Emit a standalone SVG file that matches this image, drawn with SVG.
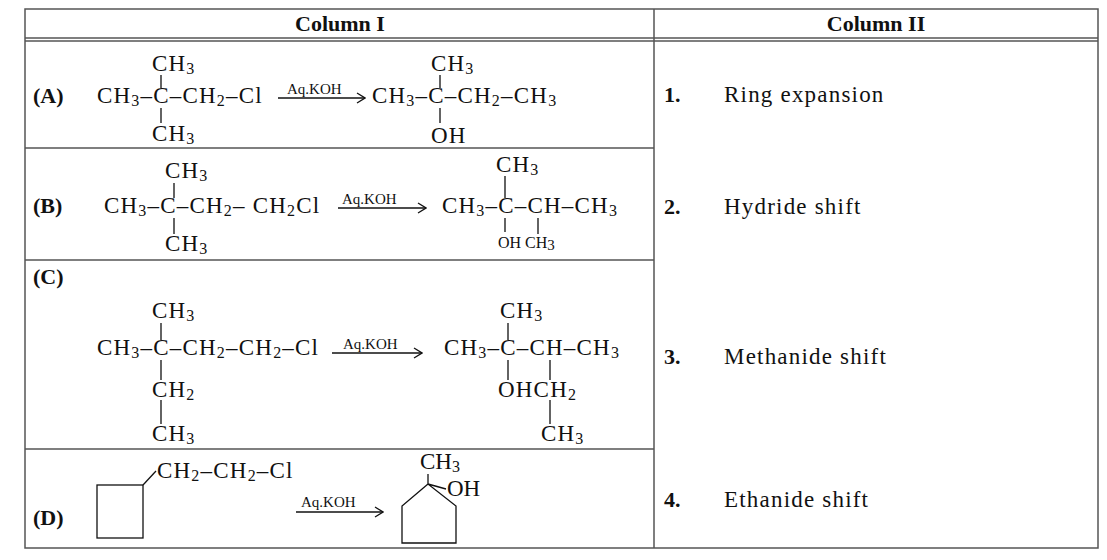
<svg xmlns="http://www.w3.org/2000/svg" width="1107" height="560" viewBox="0 0 1107 560">
<style>
text{font-family:"Liberation Serif",serif;font-size:23px;fill:#111}
.b{font-weight:bold;font-size:22px}
.k{font-size:15px;letter-spacing:0}
.sm{font-size:16px}
.f{letter-spacing:1.2px}
.t{stroke:#555;stroke-width:1.5;fill:none}
.l{stroke:#111;stroke-width:1.3;fill:none}
</style>
<defs><marker id="ah" markerWidth="10" markerHeight="12" refX="9" refY="6" orient="auto" markerUnits="userSpaceOnUse"><path d="M1,1 L9,6 L1,11" fill="none" stroke="#111" stroke-width="1.3"/></marker></defs>
<rect width="1107" height="560" fill="#fff"/>
<g id="table">
<rect class="t" x="25" y="9" width="1073" height="539"/>
<line class="t" x1="654" y1="9" x2="654" y2="548"/>
<line class="t" x1="25" y1="38" x2="1098" y2="38"/>
<line class="t" x1="25" y1="41" x2="1098" y2="41"/>
<line class="t" x1="25" y1="148" x2="654" y2="148"/>
<line class="t" x1="25" y1="260" x2="654" y2="260"/>
<line class="t" x1="25" y1="449" x2="654" y2="449"/>
<text class="b" x="340" y="31" text-anchor="middle">Column I</text>
<text class="b" x="876" y="31" text-anchor="middle">Column II</text>
</g>
<g id="rowA">
<text class="b" x="33" y="103">(A)</text>
<text class="f" x="152" y="71">CH<tspan class="sm" dy="3">3</tspan></text>
<text class="f" x="97" y="103">CH<tspan class="sm" dy="3">3</tspan><tspan dy="-3">–C–CH</tspan><tspan class="sm" dy="3">2</tspan><tspan dy="-3">–Cl</tspan></text>
<text class="f" x="152" y="141">CH<tspan class="sm" dy="3">3</tspan></text>
<path class="l" d="M161,75 V88 M161,108 V123"/>
<text class="k" x="287" y="94">Aq.KOH</text>
<line class="l" x1="278" y1="98" x2="365" y2="98" marker-end="url(#ah)"/>
<text class="f" x="431" y="71">CH<tspan class="sm" dy="3">3</tspan></text>
<text class="f" x="372" y="103">CH<tspan class="sm" dy="3">3</tspan><tspan dy="-3">–C–CH</tspan><tspan class="sm" dy="3">2</tspan><tspan dy="-3">–CH</tspan><tspan class="sm" dy="3">3</tspan></text>
<text class="f" x="431" y="143">OH</text>
<path class="l" d="M440,75 V88 M440,108 V123"/>
</g>
<g id="rowB">
<text class="b" x="33" y="213">(B)</text>
<text class="f" x="165" y="178">CH<tspan class="sm" dy="3">3</tspan></text>
<text class="f" x="104" y="213">CH<tspan class="sm" dy="3">3</tspan><tspan dy="-3">–C–CH</tspan><tspan class="sm" dy="3">2</tspan><tspan dy="-3">– CH</tspan><tspan class="sm" dy="3">2</tspan><tspan dy="-3">Cl</tspan></text>
<text class="f" x="165" y="251">CH<tspan class="sm" dy="3">3</tspan></text>
<path class="l" d="M174,183 V198 M174,218 V234"/>
<text class="k" x="342" y="204">Aq.KOH</text>
<line class="l" x1="338" y1="208" x2="426" y2="208" marker-end="url(#ah)"/>
<text class="f" x="496" y="172">CH<tspan class="sm" dy="3">3</tspan></text>
<text class="f" x="442" y="213">CH<tspan class="sm" dy="3">3</tspan><tspan dy="-3">–C–CH–CH</tspan><tspan class="sm" dy="3">3</tspan></text>
<text class="sm" x="498" y="248">OH CH<tspan class="k" dy="2">3</tspan></text>
<path class="l" d="M505,176 V198 M505,218 V232 M538,218 V234"/>
</g>
<g id="rowC">
<text class="b" x="33" y="284">(C)</text>
<text class="f" x="152" y="318">CH<tspan class="sm" dy="3">3</tspan></text>
<text class="f" x="97" y="355">CH<tspan class="sm" dy="3">3</tspan><tspan dy="-3">–C–CH</tspan><tspan class="sm" dy="3">2</tspan><tspan dy="-3">–CH</tspan><tspan class="sm" dy="3">2</tspan><tspan dy="-3">–Cl</tspan></text>
<text class="f" x="152" y="397">CH<tspan class="sm" dy="3">2</tspan></text>
<text class="f" x="152" y="441">CH<tspan class="sm" dy="3">3</tspan></text>
<path class="l" d="M161,323 V340 M161,360 V380 M161,400 V424"/>
<text class="k" x="343" y="349">Aq.KOH</text>
<line class="l" x1="332" y1="353" x2="422" y2="353" marker-end="url(#ah)"/>
<text class="f" x="500" y="318">CH<tspan class="sm" dy="3">3</tspan></text>
<text class="f" x="444" y="355">CH<tspan class="sm" dy="3">3</tspan><tspan dy="-3">–C–CH–CH</tspan><tspan class="sm" dy="3">3</tspan></text>
<text class="f" x="498" y="397">OHCH<tspan class="sm" dy="3">2</tspan></text>
<text class="f" x="541" y="441">CH<tspan class="sm" dy="3">3</tspan></text>
<path class="l" d="M508,323 V340 M508,360 V380 M550,360 V380 M550,400 V424"/>
</g>
<g id="rowD">
<text class="b" x="33" y="525">(D)</text>
<rect class="l" x="97" y="485" width="46" height="53" stroke-width="1.8"/>
<path class="l" d="M143,485 L156,471" stroke-width="1.5"/>
<text class="f" x="157" y="478">CH<tspan class="sm" dy="3">2</tspan><tspan dy="-3">–CH</tspan><tspan class="sm" dy="3">2</tspan><tspan dy="-3">–Cl</tspan></text>
<text class="k" x="301" y="507">Aq.KOH</text>
<line class="l" x1="296" y1="512" x2="383" y2="512" marker-end="url(#ah)"/>
<path class="l" stroke-width="1.8" d="M428,484 L402,506 V543 H456 V506 Z M428,484 L446,489 M428,484 V474"/>
<text x="420" y="469">CH<tspan class="sm" dy="3">3</tspan></text>
<text x="447" y="496">OH</text>
</g>
<g id="col2">
<text class="b" x="664" y="102">1.</text><text class="f" x="724" y="102">Ring expansion</text>
<text class="b" x="664" y="214">2.</text><text class="f" x="724" y="214">Hydride shift</text>
<text class="b" x="664" y="364">3.</text><text class="f" x="724" y="364">Methanide shift</text>
<text class="b" x="664" y="507">4.</text><text class="f" x="724" y="507">Ethanide shift</text>
</g>
</svg>
